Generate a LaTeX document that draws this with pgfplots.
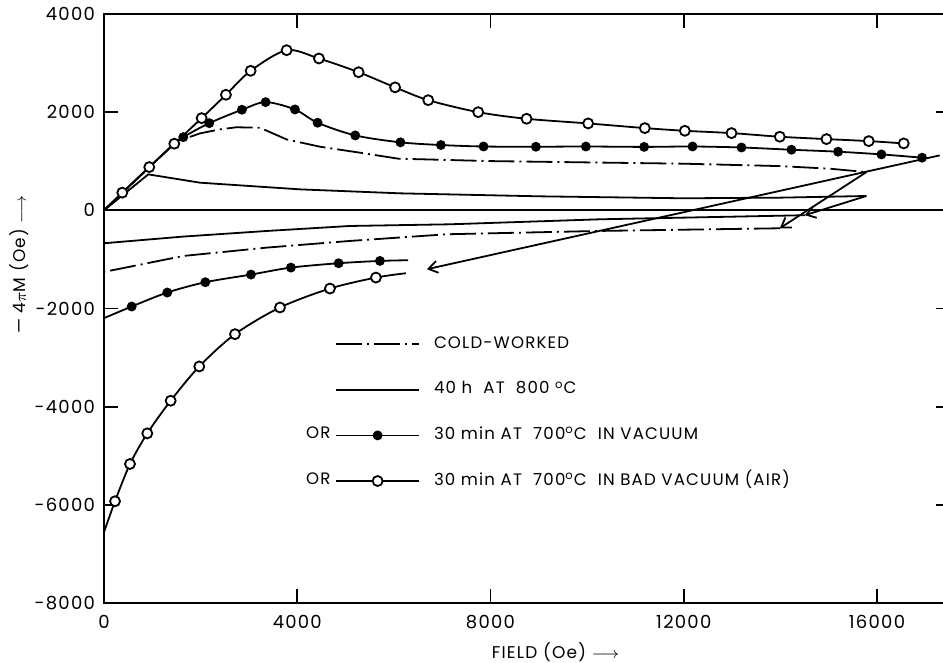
\documentclass[border=0pt]{standalone}
\usepackage{fontspec}
\setmainfont{Poppins}[LetterSpace=7]
\usepackage{pgfplots}
\pgfplotsset{compat=1.18}
\usetikzlibrary{arrows.meta}

\tikzset{
  dashdot curve/.style={dash pattern=on 13pt off 2.5pt on 1pt off 2.5pt},
  return arrow/.style={-{Straight Barb[length=4.5pt,width=6pt]}},
}

\begin{document}
\begin{tikzpicture}
\begin{axis}[
  scale only axis,
  width=422.75pt, height=294.5pt,
  xmin=0, xmax=17500, ymin=-8000, ymax=4000,
  xtick={0,4000,...,16000},
  ytick={-8000,-6000,...,4000},
  scaled ticks=false,
  tick align=inside,
  major tick length=7pt,
  /pgf/number format/assume math mode=true,
  /pgf/number format/set thousands separator={},
  tick label style={font=\fontsize{9}{10}\selectfont},
  xticklabel style={yshift=-2.5pt},
  yticklabel style={xshift=-1pt},
  axis line style={line width=0.9pt},
  every tick/.style={line width=0.9pt, black},
  every axis plot/.append style={line width=0.9pt, black},
  xlabel={FIELD (Oe) $\longrightarrow$},
  ylabel={--- 4$\pi$M (Oe) $\longrightarrow$},
  label style={font=\fontsize{8.5}{10}\selectfont},
  xlabel style={at={(axis description cs:0.534,-0.083)}, anchor=center},
  ylabel style={at={(axis description cs:-0.1,0.574)}, anchor=center},
  legend cell align=left,
  legend image code/.code={\draw[mark repeat=2,mark phase=2,#1] plot coordinates {(0pt,0pt) (20.75pt,0pt) (41.5pt,0pt)};},
  legend style={at={(axis description cs:0.273,0.457)}, anchor=north west,
    draw=none, fill=none, inner sep=0pt, row sep=12.8pt, column sep=6pt,
    font=\fontsize{8.3}{9}\selectfont,
    nodes={inner sep=1pt, text height=6pt, text depth=2pt}},
  open mark/.style={mark=*, mark size=2.5pt, mark options={fill=white, solid, line width=0.9pt}},
  filled mark/.style={mark=*, mark size=2pt, mark options={fill=black, solid}},
]

% field axis
\addplot[forget plot] coordinates {(0,0) (17500,0)};

% 30 min at 700 C in bad vacuum (air): increasing field
\addplot[forget plot, smooth, tension=0.5, open mark, mark indices={2,...,22}] coordinates {
  (0,0) (379,360) (937,881) (1455,1357) (2021,1878) (2524,2354) (3035,2842)
  (3780,3262) (4449,3093) (5270,2814) (6025,2505) (6711,2244) (7745,2000)
  (8746,1865) (10021,1770) (11194,1675) (12022,1620) (12988,1573)
  (13987,1499) (14953,1451) (15829,1410) (16553,1363)};
% decreasing field
\addplot[forget plot, smooth, tension=0.5, open mark, mark indices={2,...,10}] coordinates {
  (0,-6558) (228,-5927) (538,-5168) (896,-4544) (1380,-3879) (1972,-3181)
  (2711,-2523) (3642,-1980) (4676,-1594) (5628,-1370) (6249,-1282)};

% 30 min at 700 C in vacuum: increasing field
\addplot[forget plot, smooth, tension=0.5, filled mark, mark indices={4,...,22}] coordinates {
  (0,0) (937,881) (1455,1357) (1641,1491) (2179,1776) (2855,2049) (3345,2204)
  (3952,2055) (4421,1784) (5200,1526) (6135,1385) (6973,1330) (7856,1300)
  (8939,1295) (9973,1300) (11180,1292) (12181,1300) (13194,1280)
  (14229,1234) (15194,1194) (16091,1139) (16932,1072)};
% decreasing field
\addplot[forget plot, smooth, tension=0.5, filled mark, mark indices={2,...,8}] coordinates {
  (0,-2197) (573,-1960) (1310,-1675) (2097,-1465) (3042,-1309) (3869,-1167)
  (4856,-1078) (5711,-1031) (6297,-1017)};
% return path of both annealed samples
\addplot[forget plot, return arrow] coordinates {(17297,1119) (6683,-1200)};

% cold-worked
\addplot[forget plot, dashdot curve] coordinates {
  (0,0) (1500,1400) (1986,1567) (2400,1650) (2745,1692) (3228,1682)
  (3780,1444) (4469,1296) (5297,1174) (6090,1052) (7987,1003) (11987,950)
  (13987,901) (15022,848) (15781,779)};
\addplot[forget plot, return arrow] coordinates {(15781,779) (13987,-366)};
\addplot[forget plot, dashdot curve] coordinates {
  (13987,-366) (10263,-420) (7091,-488) (5090,-624) (3366,-760) (1641,-930)
  (0,-1255)};

% 40 h at 800 C
\addplot[forget plot] coordinates {
  (0,0) (917,732) (1986,563) (4055,427) (6124,346) (9021,285) (12000,245)
  (14000,258) (15781,292)};
\addplot[forget plot, return arrow] coordinates {(15781,292) (14505,-100)};
\addplot[forget plot] coordinates {
  (14505,-100) (10263,-183) (7159,-285) (5090,-319) (3366,-421) (1641,-535)
  (0,-671)};

% key
\addlegendimage{dashdot curve}
\addlegendentry{COLD-WORKED}
\addlegendimage{}
\addlegendentry{40 h\ \ AT\ \ 800 \textsuperscript{o}C}
\addlegendimage{filled mark}
\addlegendentry{30 min AT\ \ 700\textsuperscript{o}C\ \ IN VACUUM}
\addlegendimage{open mark}
\addlegendentry{30 min AT\ \ 700\textsuperscript{o}C\ \ IN BAD VACUUM (AIR)}

\node[font=\fontsize{8.3}{9}\selectfont] at (axis description cs:0.2535,0.2890) {OR};
\node[font=\fontsize{8.3}{9}\selectfont] at (axis description cs:0.2535,0.2105) {OR};
\end{axis}
\pgfresetboundingbox
\path[use as bounding box] (-52pt,-30pt) rectangle (419.5pt,301.5pt);
\end{tikzpicture}
\end{document}
